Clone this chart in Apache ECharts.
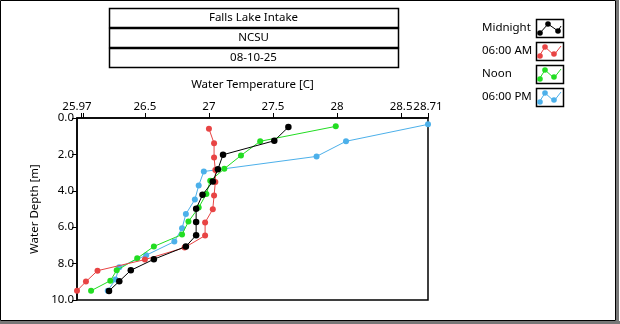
<!DOCTYPE html>
<html><head><meta charset="utf-8">
<script src="https://cdn.jsdelivr.net/npm/echarts@6/dist/echarts.min.js"></script>
<style>html,body{margin:0;padding:0;background:#fff;}#c{width:620px;height:324px;}</style>
</head><body><div id="c"></div>
<script>
var titleLines = ["Falls Lake Intake", "NCSU", "08-10-25"];
var seriesNames = ["Midnight", "06:00 AM", "Noon", "06:00 PM"];
var seriesColors = ["#000000", "#e84444", "#22dd22", "#4cb0ea"];
var xTickLabels = [25.97, 26.5, 27, 27.5, 28, 28.5, 28.71];
var xTickMarks = [26.0, 26.02, 26.5, 27, 27.5, 28, 28.5, 28.71];
var midnightTemp = [27.62, 27.51, 27.11, 27.07, 27.03, 26.95, 26.90, 26.90, 26.90, 26.82, 26.57, 26.39, 26.30, 26.22];
var midnightDepth = [0.50, 1.25, 2.02, 2.81, 3.49, 4.22, 4.99, 5.71, 6.44, 7.06, 7.76, 8.37, 8.97, 9.50];
var amTemp = [27.00, 27.04, 27.04, 27.05, 27.05, 27.04, 27.03, 26.97, 26.97, 26.81, 26.50, 26.13, 26.04, 25.97];
var amDepth = [0.59, 1.39, 2.17, 2.86, 3.52, 4.26, 5.01, 5.74, 6.46, 7.12, 7.78, 8.39, 8.99, 9.49];
var noonTemp = [27.99, 27.40, 27.25, 27.12, 27.01, 26.98, 26.92, 26.84, 26.79, 26.57, 26.44, 26.28, 26.23, 26.08];
var noonDepth = [0.46, 1.28, 2.06, 2.79, 3.45, 4.17, 4.92, 5.69, 6.40, 7.06, 7.71, 8.37, 8.94, 9.49];
var pmTemp = [28.71, 28.07, 27.84, 26.96, 26.92, 26.89, 26.82, 26.79, 26.73, 26.51, 26.30, 26.27, 26.21];
var pmDepth = [0.35, 1.28, 2.11, 2.94, 3.71, 4.48, 5.28, 6.06, 6.79, 7.54, 8.20, 8.88, 9.49];

var FONT = "Noto Sans";
function pairs(t, d) { return t.map(function (v, i) { return [v, d[i]]; }); }
var allData = [pairs(midnightTemp, midnightDepth), pairs(amTemp, amDepth), pairs(noonTemp, noonDepth), pairs(pmTemp, pmDepth)];

var graphics = [];
graphics.push({type: 'rect', shape: {x: 0.5, y: 0.5, width: 615, height: 320}, style: {fill: null, stroke: '#000', lineWidth: 1}, silent: true});
graphics.push({type: 'rect', shape: {x: 616, y: 0, width: 3, height: 324}, style: {fill: '#777'}, silent: true});
graphics.push({type: 'rect', shape: {x: 0, y: 321, width: 620, height: 3}, style: {fill: '#777'}, silent: true});
var tx = 109, tw = 289, rowTops = [8, 28, 48], rowH = 20;
titleLines.forEach(function (t, i) {
  graphics.push({type: 'rect', shape: {x: tx + 0.5, y: rowTops[i] + 0.5, width: tw, height: rowH - 1}, style: {fill: '#fff', stroke: '#000', lineWidth: 1.5}, silent: true});
  graphics.push({type: 'text', x: tx + tw / 2, y: rowTops[i] + rowH / 2, style: {text: t, font: '11.5px "' + FONT + '"', fill: '#000', align: 'center', verticalAlign: 'middle'}, silent: true});
});
var legTops = [19, 42, 65, 88];
seriesNames.forEach(function (n, i) {
  var y0 = legTops[i];
  graphics.push({type: 'text', x: 482, y: y0 + 9, style: {text: n, font: '11.5px "' + FONT + '"', fill: '#000', align: 'left', verticalAlign: 'middle'}, silent: true});
  graphics.push({type: 'rect', shape: {x: 536.5, y: y0 + 0.5, width: 27, height: 18}, style: {fill: '#fff', stroke: '#000', lineWidth: 1.5}, silent: true});
  var pts = i === 0 ? [[540, y0 + 14], [548, y0 + 5], [558, y0 + 12], [561, y0 + 7]]
                    : [[538, y0 + 16], [545, y0 + 5], [554, y0 + 13], [561, y0 + 4]];
  var mk = i === 0 ? [[540, y0 + 14], [548, y0 + 5], [558, y0 + 12]] : [[540, y0 + 14], [545, y0 + 5], [554, y0 + 12]];
  graphics.push({type: 'polyline', shape: {points: pts}, style: {stroke: seriesColors[i], lineWidth: 1, fill: null}, silent: true});
  mk.forEach(function (p) {
    graphics.push({type: 'circle', shape: {cx: p[0], cy: p[1], r: 2.8}, style: {fill: seriesColors[i]}, silent: true});
  });
});

var chart = echarts.init(document.getElementById('c'), null, {renderer: 'canvas'});
chart.setOption({
  animation: false,
  backgroundColor: '#fff',
  textStyle: {fontFamily: FONT},
  grid: {left: 77, top: 118, width: 351, height: 182, show: true, borderColor: '#000', borderWidth: 1.5, backgroundColor: '#fff', containLabel: false},
  xAxis: {
    type: 'value', position: 'top', min: 25.97, max: 28.71,
    name: 'Water Temperature [C]', nameLocation: 'middle', nameGap: 27,
    nameTextStyle: {fontFamily: FONT, fontSize: 11.5, color: '#000'},
    axisLine: {show: true, lineStyle: {color: '#000', width: 1.5}},
    axisTick: {show: true, inside: false, length: 5, lineStyle: {color: '#000'}, customValues: xTickMarks},
    axisLabel: {show: true, interval: 0, hideOverlap: false, fontFamily: FONT, fontSize: 11.5, color: '#000', margin: 5, customValues: xTickLabels, formatter: function (v) { return String(v); }, showMinLabel: true, showMaxLabel: true},
    splitLine: {show: false}
  },
  yAxis: {
    type: 'value', inverse: true, min: 0, max: 10, interval: 2,
    name: 'Water Depth [m]', nameLocation: 'middle', nameGap: 35, nameRotate: 90,
    nameTextStyle: {fontFamily: FONT, fontSize: 11.5, color: '#000'},
    axisLine: {show: true, lineStyle: {color: '#000', width: 1.5}},
    axisTick: {show: true, inside: false, length: 5, lineStyle: {color: '#000'}},
    axisLabel: {fontFamily: FONT, fontSize: 11.5, color: '#000', margin: 3, formatter: function (v) { return v.toFixed(1); }},
    splitLine: {show: false}
  },
  series: seriesNames.map(function (n, i) {
    return {
      name: n, type: 'line', data: allData[i], symbol: 'circle', symbolSize: i === 0 ? 6.5 : 6,
      lineStyle: {color: seriesColors[i], width: 1}, itemStyle: {color: seriesColors[i]},
      clip: false, z: 10 - i
    };
  }),
  graphic: graphics
});
</script></body></html>
